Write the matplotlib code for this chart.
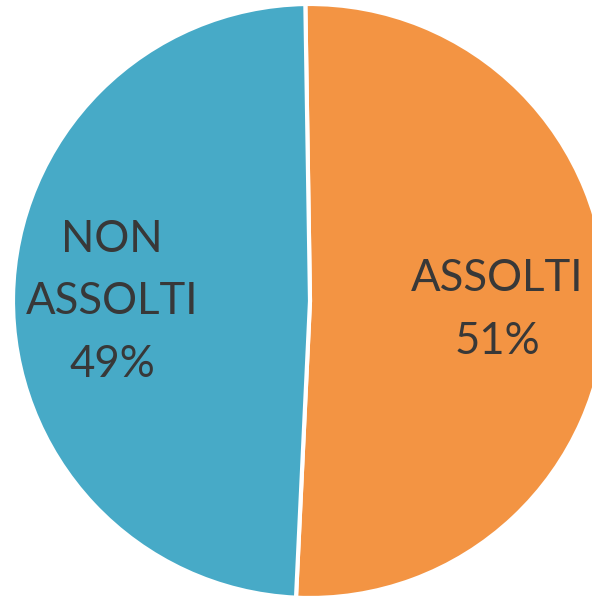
import matplotlib
matplotlib.use("Agg")
import matplotlib.pyplot as plt

labels = ["ASSOLTI", "NON\nASSOLTI"]
values = [51, 49]
colors = ["#F39443", "#47AAC7"]

W, H = 592, 600
cx, cy, r = 310, 301, 297

fig = plt.figure(figsize=(W / 100, H / 100), dpi=100)
ax = fig.add_axes([0, 0, 1, 1])
ax.pie(values, colors=colors, startangle=90.9, counterclock=False,
       radius=1.0, center=(0, 0),
       wedgeprops=dict(edgecolor="white", linewidth=3))
ax.set_xlim(-cx / r, (W - cx) / r)
ax.set_ylim((cy - H) / r, cy / r)
ax.set_aspect("equal")
ax.axis("off")

text_pos = [(0.630, -0.030), (-0.667, -0.003)]
for lab, v, (x, y) in zip(labels, values, text_pos):
    ax.text(x, y, f"{lab}\n{v}%", ha="center", va="center",
            fontsize=31.5, color="#383838", family="Lato",
            linespacing=1.65)

fig.savefig("out.png", dpi=100, facecolor="white")
